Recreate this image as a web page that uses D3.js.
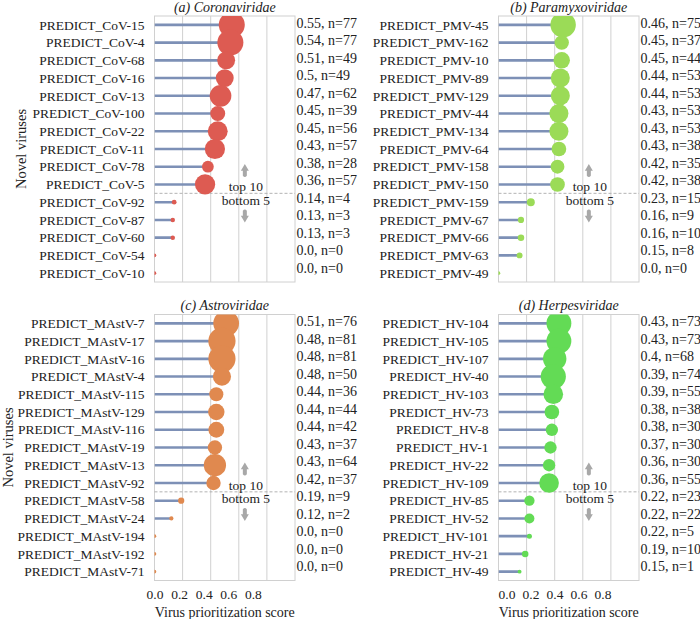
<!DOCTYPE html>
<html>
<head>
<meta charset="utf-8">
<script src="https://cdn.jsdelivr.net/npm/d3@7/dist/d3.min.js"></script>
<style>
  html, body { margin: 0; padding: 0; background: #ffffff; }
</style>
</head>
<body>
<script>
// ---------------- DATA ----------------
const panelTitles = ["(a) Coronaviridae", "(b) Paramyxoviridae", "(c) Astroviridae", "(d) Herpesviridae"];

const covNames = ["PREDICT_CoV-15","PREDICT_CoV-4","PREDICT_CoV-68","PREDICT_CoV-16","PREDICT_CoV-13","PREDICT_CoV-100","PREDICT_CoV-22","PREDICT_CoV-11","PREDICT_CoV-78","PREDICT_CoV-5","PREDICT_CoV-92","PREDICT_CoV-87","PREDICT_CoV-60","PREDICT_CoV-54","PREDICT_CoV-10"];
const covScores = [0.55,0.54,0.51,0.5,0.47,0.45,0.45,0.43,0.38,0.36,0.14,0.13,0.13,0.0,0.0];
const covN = [77,77,49,49,62,39,56,57,28,57,4,3,3,0,0];

const pmvNames = ["PREDICT_PMV-45","PREDICT_PMV-162","PREDICT_PMV-10","PREDICT_PMV-89","PREDICT_PMV-129","PREDICT_PMV-44","PREDICT_PMV-134","PREDICT_PMV-64","PREDICT_PMV-158","PREDICT_PMV-150","PREDICT_PMV-159","PREDICT_PMV-67","PREDICT_PMV-66","PREDICT_PMV-63","PREDICT_PMV-49"];
const pmvScores = [0.46,0.45,0.45,0.44,0.44,0.43,0.43,0.43,0.42,0.42,0.23,0.16,0.16,0.15,0.0];
const pmvN = [75,37,44,53,53,53,53,38,35,38,15,9,10,8,0];

const astNames = ["PREDICT_MAstV-7","PREDICT_MAstV-17","PREDICT_MAstV-16","PREDICT_MAstV-4","PREDICT_MAstV-115","PREDICT_MAstV-129","PREDICT_MAstV-116","PREDICT_MAstV-19","PREDICT_MAstV-13","PREDICT_MAstV-92","PREDICT_MAstV-58","PREDICT_MAstV-24","PREDICT_MAstV-194","PREDICT_MAstV-192","PREDICT_MAstV-71"];
const astScores = [0.51,0.48,0.48,0.48,0.44,0.44,0.44,0.43,0.43,0.42,0.19,0.12,0.0,0.0,0.0];
const astN = [76,81,81,50,36,44,42,37,64,37,9,2,0,0,0];

const hvNames = ["PREDICT_HV-104","PREDICT_HV-105","PREDICT_HV-107","PREDICT_HV-40","PREDICT_HV-103","PREDICT_HV-73","PREDICT_HV-8","PREDICT_HV-1","PREDICT_HV-22","PREDICT_HV-109","PREDICT_HV-85","PREDICT_HV-52","PREDICT_HV-101","PREDICT_HV-21","PREDICT_HV-49"];
const hvScores = [0.43,0.43,0.4,0.39,0.39,0.38,0.38,0.37,0.36,0.36,0.22,0.22,0.22,0.19,0.15];
const hvN = [73,73,68,74,55,38,30,30,30,55,23,22,5,10,1];

const xTicks = [0.0, 0.2, 0.4, 0.6, 0.8];
const yAxisLabel = "Novel viruses";
const xAxisLabel = "Virus prioritization score";
const topLabel = "top 10";
const bottomLabel = "bottom 5";

// ---------------- LAYOUT / STYLE ----------------
const W = 700, H = 619;
const FONT = "'Liberation Serif', 'Times New Roman', Times, 'DejaVu Serif', serif";
const panelW = 140.5, panelH = 266;
const origins = [[154.5, 16], [498.5, 16], [154.5, 314.5], [498.5, 314.5]];
const colors = ["#dd5b52", "#9bdb57", "#e0894f", "#63db55"];
const yLabelX = [21, 21, 8, 8];
const tickLabelOffset = [0.5, 0.5, 0.5, 8.5];
const tickLabelStep = [24.6, 24.6, 24.6, 24.0];
const stemColor = "#7d90b6";
const gridColor = "#d0d0d0";
const arrowColor = "#a8a8a8";
const textColor = "#222222";

const panelNames = [covNames, pmvNames, astNames, hvNames];
const panelScores = [covScores, pmvScores, astScores, hvScores];
const panelN = [covN, pmvN, astN, hvN];

const svg = d3.select("body").append("svg")
  .attr("width", W).attr("height", H)
  .attr("xmlns", "http://www.w3.org/2000/svg")
  .attr("font-family", FONT)
  .style("font-family", FONT)
  .attr("fill", textColor);

const rScale = d3.scaleLinear().domain([0, 81]).range([1.8, 13.6]);

function fmtScore(v) {
  return Number.isInteger(v) ? v.toFixed(1) : String(v);
}

panelTitles.forEach((title, i) => {
  const [ox, oy] = origins[i];
  const names = panelNames[i], scores = panelScores[i], ns = panelN[i];
  const g = svg.append("g").attr("transform", `translate(${ox},${oy})`);

  const x = d3.scaleLinear().domain([0, 1]).range([0, panelW]);
  const y = d3.scaleBand().domain(names).range([0, panelH]).padding(0);
  const bw = y.bandwidth();
  const yc = nm => y(nm) + bw / 2;

  const clipId = "clip" + i;
  g.append("clipPath").attr("id", clipId)
    .append("rect").attr("x", 0).attr("y", 0).attr("width", panelW).attr("height", panelH);

  // grid lines
  g.selectAll("line.grid").data(xTicks.filter(t => t > 0)).join("line")
    .attr("class", "grid")
    .attr("x1", d => x(d)).attr("x2", d => x(d))
    .attr("y1", 0).attr("y2", panelH)
    .attr("stroke", gridColor).attr("stroke-width", 1);

  // frame
  g.append("rect").attr("x", 0).attr("y", 0).attr("width", panelW).attr("height", panelH)
    .attr("fill", "none").attr("stroke", gridColor).attr("stroke-width", 1);

  // separator
  const B = y(names[10]);
  g.append("line").attr("x1", 0).attr("x2", panelW).attr("y1", B).attr("y2", B)
    .attr("stroke", "#aaaaaa").attr("stroke-width", 0.9).attr("stroke-dasharray", "3,2");

  const plot = g.append("g").attr("clip-path", `url(#${clipId})`);

  // stems
  plot.selectAll("line.stem").data(names).join("line")
    .attr("class", "stem")
    .attr("x1", x(0)).attr("x2", (d, k) => x(scores[k]))
    .attr("y1", d => yc(d)).attr("y2", d => yc(d))
    .attr("stroke", stemColor).attr("stroke-width", 2.6);

  // dots
  plot.selectAll("circle.dot").data(names).join("circle")
    .attr("class", "dot")
    .attr("cx", (d, k) => x(scores[k]))
    .attr("cy", d => yc(d))
    .attr("r", (d, k) => rScale(ns[k]))
    .attr("fill", colors[i]);

  // y labels
  g.selectAll("text.ylab").data(names).join("text")
    .attr("class", "ylab")
    .attr("x", -10).attr("y", d => yc(d))
    .attr("dy", "0.35em")
    .attr("text-anchor", "end")
    .attr("font-size", "13.5px")
    .text(d => d);

  // value labels
  g.selectAll("text.vlab").data(names).join("text")
    .attr("class", "vlab")
    .attr("x", panelW + 1.5).attr("y", (d, k) => yc(d) - 2 - 0.22 * k)
    .attr("dy", "0.35em")
    .attr("text-anchor", "start")
    .attr("font-size", "14px")
    .text((d, k) => `${fmtScore(scores[k])}, n=${ns[k]}`);

  // arrows + annotation
  const ax = x(0.643);
  const up = d3.path();
  up.moveTo(ax, B - 29.4);
  up.lineTo(ax + 4, B - 22.6);
  up.lineTo(ax + 2, B - 22.6);
  up.lineTo(ax + 2, B - 17.5);
  up.quadraticCurveTo(ax, B - 15, ax - 2, B - 17.5);
  up.lineTo(ax - 2, B - 22.6);
  up.lineTo(ax - 4, B - 22.6);
  up.closePath();
  g.append("path").attr("d", up.toString()).attr("fill", arrowColor);

  const dn = d3.path();
  dn.moveTo(ax, B + 29.2);
  dn.lineTo(ax + 4, B + 22.4);
  dn.lineTo(ax + 2, B + 22.4);
  dn.lineTo(ax + 2, B + 17.5);
  dn.quadraticCurveTo(ax, B + 15, ax - 2, B + 17.5);
  dn.lineTo(ax - 2, B + 22.4);
  dn.lineTo(ax - 4, B + 22.4);
  dn.closePath();
  g.append("path").attr("d", dn.toString()).attr("fill", arrowColor);

  g.append("text").attr("x", x(0.65)).attr("y", B - 7).attr("dy", "0.35em")
    .attr("text-anchor", "middle").attr("font-size", "13.5px").text(topLabel);
  g.append("text").attr("x", x(0.65)).attr("y", B + 6.6).attr("dy", "0.35em")
    .attr("text-anchor", "middle").attr("font-size", "13.5px").text(bottomLabel);

  // title
  g.append("text").attr("x", panelW / 2).attr("y", -9).attr("dy", "0.35em")
    .attr("text-anchor", "middle").attr("font-size", "14px")
    .attr("font-style", "italic").text(title);

  // y axis label (left column)
  if (i % 2 === 0) {
    g.append("text")
      .attr("transform", `translate(${yLabelX[i] - ox},${panelH / 2}) rotate(-90)`)
      .attr("dy", "0.35em")
      .attr("text-anchor", "middle").attr("font-size", "14.5px")
      .text(yAxisLabel);
  }

  // x axis (bottom row)
  if (i >= 2) {
    g.selectAll("text.xt").data(xTicks).join("text")
      .attr("class", "xt")
      .attr("x", (d, k) => x(0) + tickLabelOffset[i] + k * tickLabelStep[i])
      .attr("y", panelH + 14).attr("dy", "0.35em")
      .attr("text-anchor", "middle").attr("font-size", "13.5px")
      .text(d => d.toFixed(1));
    g.append("text").attr("x", panelW / 2).attr("y", panelH + 31.5).attr("dy", "0.35em")
      .attr("text-anchor", "middle").attr("font-size", "14px")
      .text(xAxisLabel);
  }
});
</script>
</body>
</html>
